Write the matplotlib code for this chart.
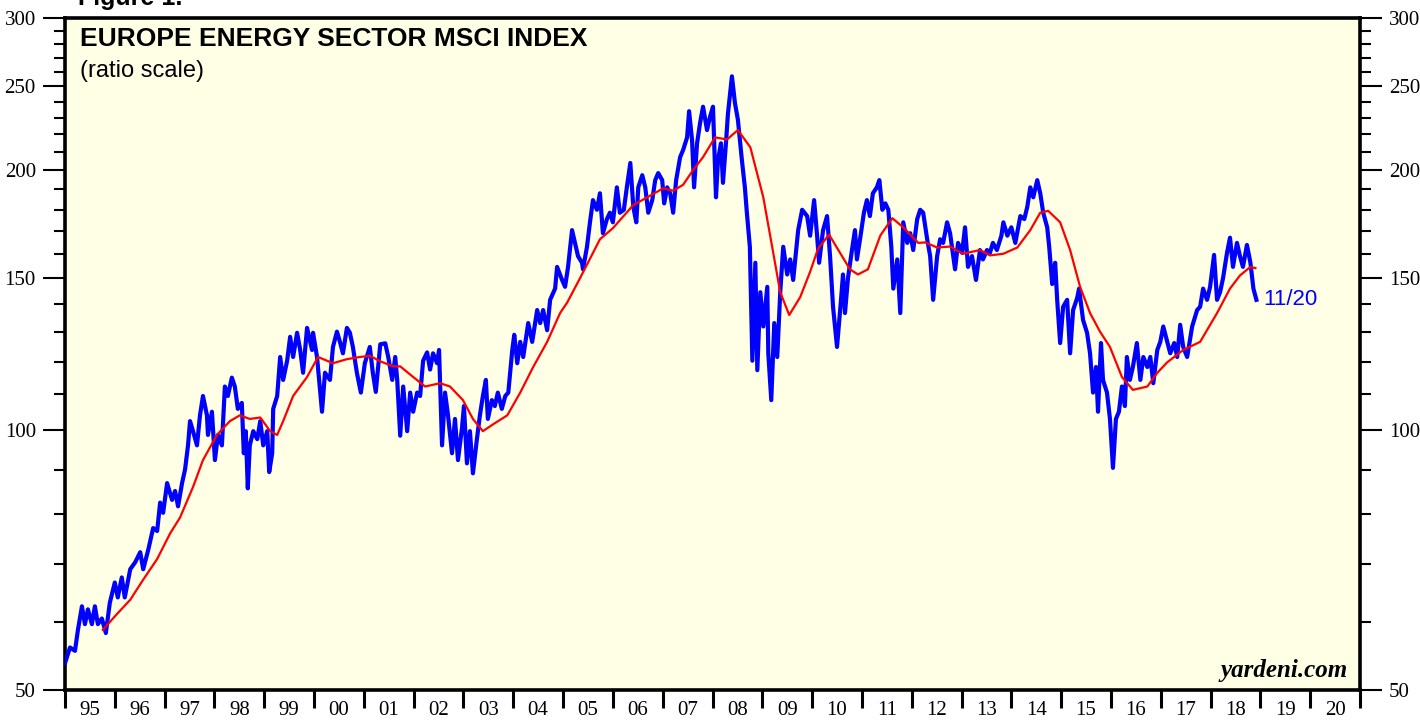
import matplotlib
matplotlib.use("Agg")
import matplotlib.pyplot as plt
from matplotlib.ticker import FixedLocator, FixedFormatter, NullFormatter

# ---------------- data ----------------
index_dates = [
    1995.00, 1995.10, 1995.20, 1995.26, 1995.34, 1995.40, 1995.46, 1995.54, 1995.60, 1995.66,
    1995.74, 1995.82, 1995.90, 1996.00, 1996.06, 1996.14, 1996.20, 1996.31, 1996.41, 1996.51,
    1996.57, 1996.67, 1996.77, 1996.85, 1996.91, 1996.97, 1997.05, 1997.15, 1997.21, 1997.27,
    1997.35, 1997.41, 1997.47, 1997.51, 1997.57, 1997.65, 1997.71, 1997.77, 1997.85, 1997.87,
    1997.95, 1998.01, 1998.07, 1998.15, 1998.21, 1998.27, 1998.35, 1998.41, 1998.47, 1998.55,
    1998.59, 1998.63, 1998.67, 1998.71, 1998.78, 1998.86, 1998.92, 1998.98, 1999.06, 1999.10,
    1999.16, 1999.18, 1999.26, 1999.32, 1999.38, 1999.46, 1999.52, 1999.58, 1999.66, 1999.72,
    1999.78, 1999.86, 1999.96, 1999.98, 2000.06, 2000.16, 2000.22, 2000.32, 2000.38, 2000.46,
    2000.52, 2000.58, 2000.66, 2000.72, 2000.78, 2000.86, 2000.94, 2001.02, 2001.12, 2001.18,
    2001.24, 2001.33, 2001.43, 2001.49, 2001.57, 2001.63, 2001.67, 2001.73, 2001.79, 2001.87,
    2001.93, 2001.99, 2002.07, 2002.13, 2002.19, 2002.27, 2002.33, 2002.39, 2002.47, 2002.51,
    2002.57, 2002.63, 2002.69, 2002.77, 2002.83, 2002.89, 2002.97, 2003.01, 2003.07, 2003.13,
    2003.19, 2003.27, 2003.33, 2003.39, 2003.45, 2003.49, 2003.57, 2003.63, 2003.69, 2003.77,
    2003.84, 2003.90, 2003.98, 2004.02, 2004.08, 2004.14, 2004.20, 2004.30, 2004.38, 2004.48,
    2004.54, 2004.60, 2004.68, 2004.74, 2004.84, 2004.88, 2004.98, 2005.04, 2005.10, 2005.18,
    2005.24, 2005.30, 2005.38, 2005.40, 2005.48, 2005.54, 2005.60, 2005.68, 2005.74, 2005.80,
    2005.88, 2005.94, 2006.00, 2006.08, 2006.14, 2006.22, 2006.28, 2006.35, 2006.41, 2006.47,
    2006.51, 2006.59, 2006.65, 2006.71, 2006.79, 2006.85, 2006.91, 2006.99, 2007.03, 2007.09,
    2007.15, 2007.21, 2007.27, 2007.35, 2007.41, 2007.49, 2007.53, 2007.59, 2007.63, 2007.69,
    2007.75, 2007.81, 2007.89, 2007.95, 2008.01, 2008.07, 2008.11, 2008.17, 2008.21, 2008.27,
    2008.31, 2008.39, 2008.45, 2008.51, 2008.59, 2008.65, 2008.69, 2008.75, 2008.80, 2008.86,
    2008.90, 2008.96, 2009.02, 2009.10, 2009.12, 2009.18, 2009.24, 2009.30, 2009.36, 2009.42,
    2009.50, 2009.56, 2009.62, 2009.72, 2009.80, 2009.90, 2009.96, 2010.04, 2010.10, 2010.14,
    2010.22, 2010.30, 2010.36, 2010.42, 2010.50, 2010.58, 2010.62, 2010.66, 2010.72, 2010.80,
    2010.86, 2010.90, 2010.98, 2011.04, 2011.10, 2011.16, 2011.22, 2011.30, 2011.35, 2011.41,
    2011.47, 2011.53, 2011.59, 2011.63, 2011.71, 2011.77, 2011.83, 2011.91, 2011.97, 2012.03,
    2012.11, 2012.17, 2012.23, 2012.31, 2012.37, 2012.43, 2012.51, 2012.57, 2012.63, 2012.71,
    2012.77, 2012.87, 2012.93, 2013.01, 2013.07, 2013.13, 2013.21, 2013.29, 2013.37, 2013.43,
    2013.51, 2013.57, 2013.63, 2013.71, 2013.80, 2013.84, 2013.92, 2014.00, 2014.08, 2014.18,
    2014.26, 2014.32, 2014.38, 2014.44, 2014.52, 2014.58, 2014.64, 2014.72, 2014.76, 2014.82,
    2014.88, 2014.92, 2014.98, 2015.04, 2015.12, 2015.18, 2015.24, 2015.32, 2015.36, 2015.44,
    2015.52, 2015.58, 2015.64, 2015.70, 2015.74, 2015.80, 2015.84, 2015.92, 2015.98, 2016.04,
    2016.10, 2016.16, 2016.22, 2016.28, 2016.32, 2016.38, 2016.44, 2016.52, 2016.59, 2016.65,
    2016.73, 2016.79, 2016.85, 2016.93, 2016.99, 2017.05, 2017.13, 2017.19, 2017.27, 2017.33,
    2017.39, 2017.45, 2017.53, 2017.63, 2017.73, 2017.79, 2017.85, 2017.93, 2017.99, 2018.07,
    2018.13, 2018.19, 2018.25, 2018.33, 2018.39, 2018.45, 2018.53, 2018.59, 2018.65, 2018.73,
    2018.80, 2018.86, 2018.92,
]
index_values = [
    53.7, 56.0, 55.5, 58.7, 62.5, 59.6, 62.0, 59.6, 62.5, 59.6,
    60.5, 58.2, 63.1, 66.6, 64.0, 67.5, 64.0, 69.0, 70.3, 72.2,
    69.0, 72.6, 77.0, 76.4, 82.4, 80.2, 86.8, 83.0, 85.0, 81.6,
    86.8, 90.0, 96.0, 102.4, 99.7, 96.0, 104.0, 109.5, 104.0, 98.7,
    105.0, 92.3, 98.7, 96.0, 112.3, 109.5, 115.0, 112.3, 105.8, 107.5,
    94.0, 99.7, 85.6, 96.0, 99.7, 97.6, 102.4, 96.0, 99.7, 89.4,
    94.0, 105.8, 109.5, 121.5, 114.3, 120.3, 128.2, 121.5, 129.6, 124.0,
    116.5, 131.3, 123.8, 129.6, 121.5, 105.0, 116.5, 114.3, 124.8, 130.0,
    126.5, 122.7, 131.3, 129.6, 124.8, 116.5, 110.5, 119.5, 124.8, 116.5,
    110.7, 125.7, 126.0, 121.5, 114.3, 121.5, 114.3, 98.5, 112.3, 99.7,
    110.5, 105.0, 110.5, 109.5, 120.3, 123.0, 117.5, 122.7, 119.5, 123.8,
    96.0, 110.5, 104.0, 94.0, 103.0, 92.3, 100.5, 106.6, 91.5, 99.7,
    89.1, 97.6, 104.0, 109.5, 114.3, 103.0, 108.3, 106.6, 110.5, 105.8,
    109.5, 110.5, 123.8, 128.9, 119.5, 126.5, 121.5, 133.0, 126.5, 137.7,
    133.0, 137.7, 130.5, 141.5, 145.8, 154.5, 149.2, 146.5, 154.5, 170.4,
    164.7, 159.0, 156.2, 153.5, 163.0, 174.0, 184.6, 179.9, 188.0, 169.0,
    175.5, 178.5, 174.0, 191.0, 178.5, 179.9, 191.0, 203.8, 181.3, 174.0,
    191.0, 197.3, 191.0, 178.5, 184.6, 194.7, 198.4, 194.7, 183.0, 191.0,
    188.0, 178.5, 194.7, 207.0, 211.0, 218.2, 234.0, 216.5, 191.0, 214.8,
    226.7, 236.8, 222.5, 230.5, 236.8, 186.0, 205.4, 214.8, 193.3, 214.8,
    232.4, 256.8, 239.3, 228.7, 205.4, 191.0, 178.5, 163.0, 120.3, 156.2,
    117.3, 144.4, 131.8, 146.5, 122.7, 108.3, 133.0, 121.5, 144.4, 163.0,
    151.4, 157.6, 149.2, 170.4, 179.9, 176.9, 167.9, 184.6, 167.9, 156.2,
    170.4, 176.9, 159.0, 138.9, 124.8, 141.5, 151.4, 136.6, 149.9, 161.6,
    170.4, 157.6, 169.0, 178.5, 184.6, 176.9, 188.0, 191.0, 194.7, 179.9,
    183.0, 179.9, 163.0, 145.8, 157.6, 136.6, 174.0, 164.7, 169.0, 161.6,
    175.5, 179.9, 178.5, 166.3, 159.0, 141.5, 159.0, 166.3, 164.7, 174.0,
    169.0, 153.5, 164.7, 160.4, 171.7, 154.5, 159.0, 149.2, 161.6, 157.6,
    161.6, 160.4, 164.7, 161.6, 167.9, 174.0, 167.9, 171.7, 164.7, 176.9,
    175.5, 181.3, 191.0, 186.0, 194.7, 188.0, 178.5, 171.7, 163.0, 147.6,
    156.2, 141.5, 126.1, 138.9, 141.5, 122.7, 137.7, 142.1, 145.8, 134.1,
    129.6, 122.7, 110.5, 118.3, 105.0, 126.1, 114.3, 110.5, 103.0, 90.4,
    103.0, 105.0, 112.3, 106.6, 121.5, 114.3, 118.3, 126.1, 114.3, 121.5,
    118.3, 121.5, 113.3, 123.8, 126.5, 131.8, 126.5, 122.7, 126.1, 121.5,
    132.4, 124.8, 121.5, 131.8, 137.7, 138.9, 145.8, 141.5, 146.5, 159.5,
    141.5, 144.4, 149.9, 160.4, 167.0, 154.5, 164.7, 159.0, 154.5, 163.8,
    156.2, 145.8, 141.5,
]

avg_dates = [
    1995.76, 1996.04, 1996.31, 1996.57, 1996.85, 1997.11, 1997.31, 1997.57, 1997.77, 1998.05,
    1998.31, 1998.51, 1998.71, 1998.92, 1999.12, 1999.26, 1999.38, 1999.58, 1999.86, 2000.08,
    2000.38, 2000.66, 2000.92, 2001.12, 2001.33, 2001.59, 2001.73, 2001.99, 2002.23, 2002.53,
    2002.73, 2002.99, 2003.19, 2003.39, 2003.59, 2003.88, 2004.14, 2004.40, 2004.68, 2004.94,
    2005.08, 2005.34, 2005.74, 2006.00, 2006.41, 2006.69, 2007.01, 2007.21, 2007.41, 2007.61,
    2007.81, 2008.05, 2008.29, 2008.51, 2008.76, 2009.02, 2009.22, 2009.36, 2009.54, 2009.76,
    2009.96, 2010.12, 2010.34, 2010.56, 2010.76, 2010.92, 2011.12, 2011.37, 2011.61, 2011.83,
    2012.13, 2012.27, 2012.51, 2012.77, 2013.03, 2013.37, 2013.57, 2013.84, 2014.12, 2014.38,
    2014.58, 2014.74, 2014.98, 2015.18, 2015.38, 2015.58, 2015.78, 2015.98, 2016.22, 2016.44,
    2016.73, 2016.93, 2017.13, 2017.45, 2017.79, 2018.13, 2018.39, 2018.59, 2018.80, 2018.90,
]
avg_values = [
    58.7, 61.2, 63.6, 67.1, 70.9, 75.9, 79.2, 85.9, 92.3, 98.7,
    102.4, 104.0, 103.0, 103.4, 99.7, 98.7, 102.4, 109.5, 115.2, 121.5,
    119.5, 120.8, 121.5, 121.9, 120.1, 118.5, 118.5, 115.2, 112.3, 113.3,
    112.3, 108.3, 103.0, 99.7, 101.5, 104.0, 110.5, 118.3, 126.5, 136.6,
    140.4, 149.9, 166.3, 171.3, 182.2, 186.0, 190.5, 189.3, 192.3, 200.0,
    207.0, 218.2, 217.0, 222.5, 212.5, 186.0, 160.3, 144.4, 135.9, 142.5,
    152.5, 162.2, 168.4, 160.4, 153.5, 151.4, 153.5, 168.0, 175.9, 171.7,
    164.7, 164.9, 162.7, 163.1, 160.0, 161.6, 159.3, 160.0, 162.7, 170.4,
    178.5, 179.4, 174.0, 161.6, 146.5, 136.6, 130.0, 124.8, 115.2, 111.3,
    112.3, 116.5, 119.8, 123.8, 126.5, 136.6, 145.8, 151.0, 154.5, 154.0,
]

year_labels = ["95", "96", "97", "98", "99", "00", "01", "02", "03", "04", "05", "06", "07",
               "08", "09", "10", "11", "12", "13", "14", "15", "16", "17", "18", "19", "20"]
y_major = [50, 100, 150, 200, 250, 300]
y_minor = [60, 70, 80, 90, 110, 120, 130, 140, 160, 170, 180, 190,
           210, 220, 230, 240, 260, 270, 280, 290]
title_text = "EUROPE ENERGY SECTOR MSCI INDEX"
subtitle_text = "(ratio scale)"
last_label = "11/20"

# ---------------- figure ----------------
W, H = 1420, 721
fig = plt.figure(figsize=(W / 100, H / 100), dpi=100)
fig.patch.set_facecolor("white")
L, R, T, B = 65, 1360, 18, 690
ax = fig.add_axes([L / W, 1 - B / H, (R - L) / W, (B - T) / H])
ax.set_facecolor("#FFFFE6")

ax.plot(index_dates, index_values, color="#0000FF", lw=3.0, solid_joinstyle="round", zorder=3)
ax.plot(avg_dates, avg_values, color="#FF0000", lw=1.6, zorder=4)

ax.set_yscale("log")
ax.set_ylim(50, 300)
ax.set_xlim(1995, 2021)

serif = ["Liberation Serif", "DejaVu Serif"]
sans = ["Liberation Sans", "DejaVu Sans"]

ax.yaxis.set_major_locator(FixedLocator(y_major))
ax.yaxis.set_major_formatter(FixedFormatter([str(v) for v in y_major]))
ax.yaxis.set_minor_locator(FixedLocator(y_minor))
ax.yaxis.set_minor_formatter(NullFormatter())
ax.tick_params(axis="y", which="major", direction="out", length=16, width=1.5,
               labelsize=15, pad=5, left=True, right=True, labelleft=True, labelright=True)
ax.tick_params(axis="y", which="minor", direction="out", length=8, width=1.5,
               left=True, right=True)

n_years = len(year_labels)
ax.xaxis.set_major_locator(FixedLocator([1995 + i for i in range(n_years + 1)]))
ax.xaxis.set_major_formatter(NullFormatter())
ax.xaxis.set_minor_locator(FixedLocator([1995.5 + i for i in range(n_years)]))
ax.xaxis.set_minor_formatter(FixedFormatter(year_labels))
ax.tick_params(axis="x", which="major", direction="out", length=13, width=2.2)
ax.tick_params(axis="x", which="minor", length=0, labelsize=15, pad=8)

for lab in ax.get_yticklabels() + ax.get_xticklabels(which="both"):
    lab.set_fontfamily(serif)

for s in ax.spines.values():
    s.set_linewidth(2.6)
    s.set_color("black")

ax.text(0.0116, 0.986, title_text, transform=ax.transAxes, ha="left", va="top",
        fontsize=19, fontweight="bold", family=sans)
ax.text(0.0116, 0.937, subtitle_text, transform=ax.transAxes, ha="left", va="top",
        fontsize=17, family=sans)
ax.text(index_dates[-1] + 0.14, index_values[-1], last_label, ha="left", va="center",
        fontsize=16, color="#0000FF", family=sans)
ax.text(0.9907, 0.012, "yardeni.com", transform=ax.transAxes, ha="right", va="bottom",
        fontsize=18, fontweight="bold", style="italic", family=serif)
fig.text(78 / W, 1 - 5 / H, "Figure 1.", ha="left", va="baseline",
         fontsize=18, fontweight="bold", family=sans)

fig.savefig("out.png", dpi=100)
